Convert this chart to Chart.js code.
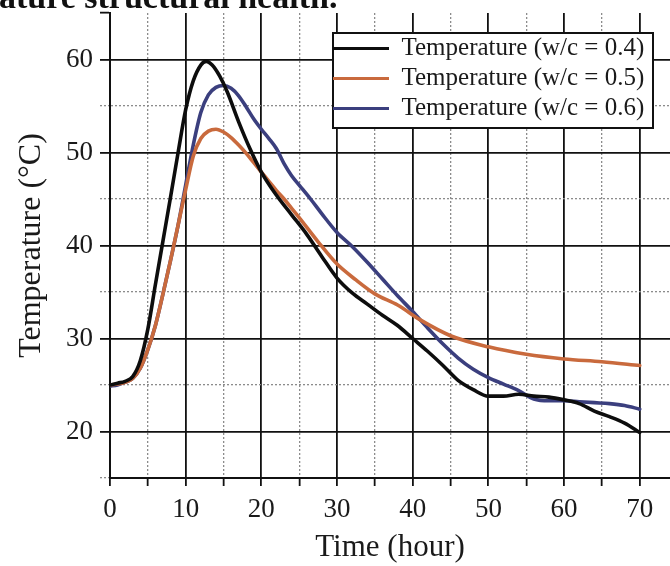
<!DOCTYPE html>
<html><head><meta charset="utf-8">
<script src="https://cdn.jsdelivr.net/npm/chart.js@4.4.1/dist/chart.umd.min.js"></script>
<style>
html,body{margin:0;padding:0;background:#fff;overflow:hidden;width:670px;height:566px;}
#wrap{position:relative;width:670px;height:566px;}
#cap{position:absolute;left:-1px;top:-20px;font:bold 34px 'Liberation Serif','Times New Roman',serif;line-height:34px;color:#111;white-space:nowrap;}
canvas{position:absolute;left:0;top:0;}
</style></head><body>
<div id="wrap"><canvas id="c" width="670" height="566"></canvas><div id="cap">ature structural health.</div></div>
<script>
// ---- data ----
const seriesLabels = ['Temperature (w/c = 0.4)', 'Temperature (w/c = 0.5)', 'Temperature (w/c = 0.6)'];

const time04 = [0,1,2,3,4,5,6,7,8,9,10,11,12,12.7,13.5,14.5,15.5,17,18.5,20,22,24,26,28,30,32,34,36,38,40,42,44,46,48,50,52,54,56,58,60,62,64,66,68,70];
const temp04 = [25.0,25.2,25.4,25.9,27.6,31.0,35.8,40.5,45.2,50.0,54.6,57.7,59.4,59.8,59.4,58.2,56.5,53.3,50.4,47.9,45.4,43.3,41.2,38.8,36.5,34.9,33.7,32.5,31.4,30.0,28.6,27.1,25.5,24.5,23.8,23.8,24.0,23.8,23.7,23.4,23.0,22.2,21.6,20.9,19.9];

const time05 = [0,1,2,3,4,5,6,7,8,9,10,11,12,13,14,15,16,17,18,19,20,21,22,23,24,25,27.5,30,32.5,35,38,41,45,50,55,60,65,70];
const temp05 = [25.0,25.1,25.3,25.7,26.8,28.8,31.4,34.8,38.4,42.2,46.0,49.6,51.5,52.3,52.5,52.2,51.6,50.8,49.9,48.9,47.9,46.9,45.9,45.0,44.0,43.0,40.4,38.0,36.3,34.8,33.6,32.0,30.3,29.1,28.3,27.8,27.5,27.1];

const time06 = [0,1,2,3,4,5,6,7,8,9,10,11,12,13,14,15,16,17,18,19,20,21,22,23,24,25,26.5,28,30,32,34,36,38,40,42,44,46,48,50,52,54,56,58,60,62,64,66,68,70];
const temp06 = [24.9,25.0,25.3,25.7,26.8,28.8,31.4,34.8,38.4,42.2,46.5,50.8,54.3,56.2,57.0,57.2,56.9,56.1,54.9,53.6,52.5,51.5,50.4,48.8,47.5,46.5,45.0,43.4,41.4,39.9,38.2,36.4,34.6,32.9,31.1,29.4,27.9,26.7,25.8,25.1,24.4,23.5,23.3,23.3,23.2,23.1,23.0,22.8,22.4];

const xTickLabels = [0,10,20,30,40,50,60,70];
const yTickLabels = [20,30,40,50,60];
const seriesColors = ['#0d0d0d', '#c96a3d', '#3b3f7e'];

// ---- chart ----
const toPts = (t, v) => t.map((x, i) => ({x: x, y: v[i]}));
const isMajor = v => Math.abs(v % 10) < 1e-6;
const FONT = "'Liberation Serif','Times New Roman',serif";
Chart.defaults.font.family = FONT;
Chart.defaults.color = '#1a1a1a';

const mk = (i, t, v) => ({
  label: seriesLabels[i], data: toPts(t, v),
  borderColor: seriesColors[i], backgroundColor: seriesColors[i],
  borderWidth: 3.6, pointRadius: 0, cubicInterpolationMode: 'monotone', fill: false,
  borderJoinStyle: 'round', borderCapStyle: 'round'
});

const legendFrame = {
  id: 'legendFrame',
  beforeDraw(chart) {
    const lg = chart.legend;
    lg.left = 328; lg.top = 31; lg.right = 655; lg.bottom = 128;
    lg.width = lg.right - lg.left; lg.height = lg.bottom - lg.top;
  },
  afterDraw(chart) {
    const lg = chart.legend, ctx = chart.ctx;
    ctx.save();
    ctx.fillStyle = '#fff';
    ctx.fillRect(lg.left + 5, lg.top + 2, 320, 95);
    ctx.lineWidth = 2; ctx.strokeStyle = '#111';
    ctx.strokeRect(lg.left + 5, lg.top + 2, 320, 95);
    ctx.restore();
    lg.draw();
  }
};

new Chart(document.getElementById('c'), {
  type: 'line',
  data: { datasets: [mk(0, time04, temp04), mk(1, time05, temp05), mk(2, time06, temp06)] },
  options: {
    responsive: false, animation: false,
    layout: { padding: { top: 13, left: 0, right: 0, bottom: 0 } },
    plugins: {
      tooltip: { enabled: false },
      legend: {
        position: 'chartArea', align: 'start',
        labels: {
          boxWidth: 56, boxHeight: 3, padding: 5, color: '#1a1a1a',
          font: { size: 25, family: FONT },
          generateLabels: (chart) => Chart.defaults.plugins.legend.labels.generateLabels(chart)
            .map(l => Object.assign(l, { lineWidth: 0, fillStyle: l.strokeStyle }))
        }
      }
    },
    scales: {
      x: {
        type: 'linear', min: 0, max: 74,
        afterFit: s => { s.height = 88; s.paddingLeft = 0; s.paddingRight = 0; },
        ticks: {
          stepSize: 5, includeBounds: false, autoSkip: false, maxRotation: 0, padding: 8,
          font: { size: 27 }, color: '#1a1a1a',
          callback: v => xTickLabels.includes(v) ? String(v) : ''
        },
        grid: {
          color: c => c.tick ? (isMajor(c.tick.value) ? '#111' : '#8c8c8c') : '#111',
          lineWidth: c => (c.tick && isMajor(c.tick.value)) ? 1.8 : 1.3,
          tickLength: 8, tickColor: '#111', tickWidth: 1.8
        },
        border: { color: '#111', width: 2, dash: c => (c.tick && !isMajor(c.tick.value)) ? [2, 2] : [] },
        title: { display: true, text: 'Time (hour)', font: { size: 31 }, color: '#1a1a1a', padding: { top: 0, bottom: 0 } }
      },
      y: {
        min: 15, max: 65,
        afterFit: s => { s.width = 110; s.paddingTop = 0; s.paddingBottom = 0; },
        ticks: {
          stepSize: 5, includeBounds: false, autoSkip: false, padding: 7,
          font: { size: 27 }, color: '#1a1a1a',
          callback: v => yTickLabels.includes(v) ? String(v) : ''
        },
        grid: {
          color: c => !c.tick ? '#111' : (c.tick.value === 65 ? 'rgba(0,0,0,0)' : (isMajor(c.tick.value) ? '#111' : '#8c8c8c')),
          lineWidth: c => (c.tick && isMajor(c.tick.value)) ? 1.8 : 1.3,
          tickLength: 10,
          tickColor: c => (c.tick && !isMajor(c.tick.value) && c.tick.value !== 65) ? '#8c8c8c' : '#111',
          tickWidth: c => (c.tick && !isMajor(c.tick.value) && c.tick.value !== 65) ? 1.3 : 1.8,
          tickBorderDash: c => (c.tick && !isMajor(c.tick.value) && c.tick.value !== 65) ? [2, 2] : []
        },
        border: { color: '#111', width: 2, dash: c => (c.tick && !isMajor(c.tick.value)) ? [2, 2] : [] },
        title: { display: true, text: 'Temperature (°C)', font: { size: 32 }, color: '#1a1a1a', padding: { top: 12, bottom: 0 } }
      }
    }
  },
  plugins: [legendFrame]
});
</script>
</body></html>
